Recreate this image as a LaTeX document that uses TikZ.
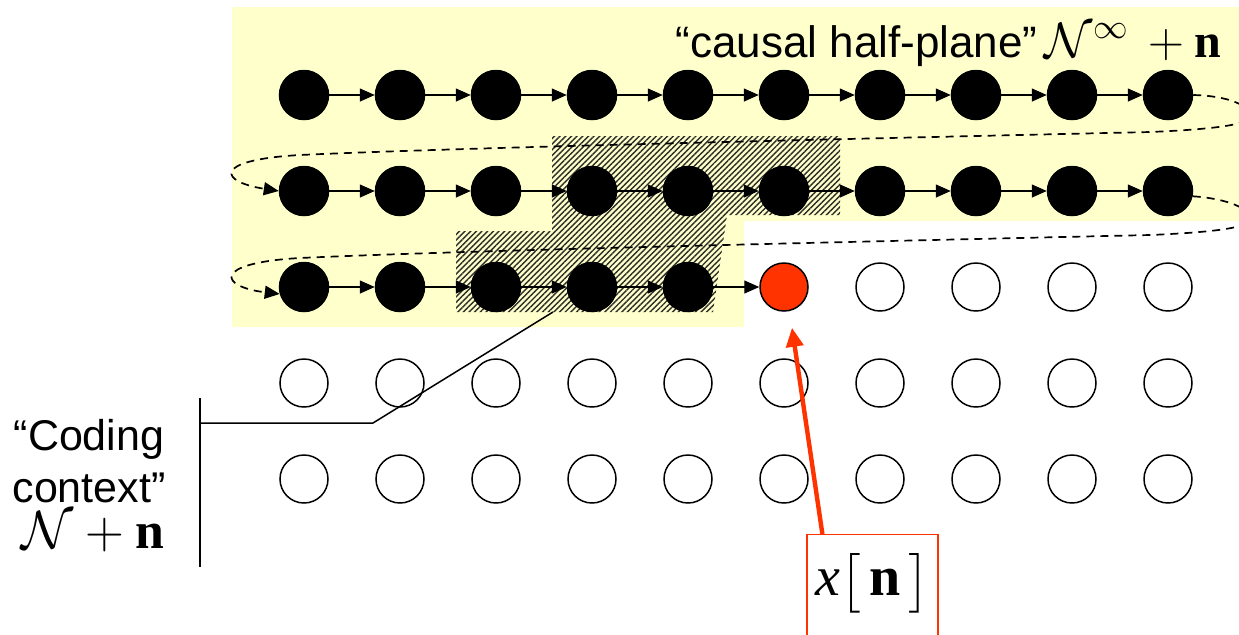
\documentclass[tikz,border=0pt]{standalone}
\usepackage{amsmath}
\usepackage{graphicx}
\usepackage{fontspec}
\setmainfont{Liberation Serif}
\setsansfont{Liberation Sans}
\usetikzlibrary{arrows.meta,patterns.meta,calc}
\definecolor{paleyellow}{RGB}{255,255,204}
\definecolor{redorange}{RGB}{255,51,0}
\definecolor{hatchgray}{RGB}{45,45,40}
\begin{document}
\begin{tikzpicture}[x=0.5pt,y=-0.5pt,
  filled/.style={circle,fill=black,draw=black,line width=0.75pt,minimum size=24.5pt,inner sep=0pt},
  empty/.style={circle,fill=white,draw=black,line width=0.75pt,minimum size=24pt,inner sep=0pt},
  current/.style={circle,fill=redorange,draw=black,line width=0.75pt,minimum size=24pt,inner sep=0pt},
  link/.style={-{Triangle[length=7.5pt,width=6.5pt]},line width=0.7pt},
  wrap/.style={dash pattern=on 4pt off 3pt,line width=0.85pt,-{Triangle[length=7.5pt,width=6.5pt]}},
  redarrow/.style={draw=redorange,line width=2.2pt,-{Triangle[length=9.5pt,width=8.5pt]}},
  lbl/.style={font=\fontsize{21.5}{25}\selectfont\sffamily,inner sep=0pt},
  mathlbl/.style={font=\fontsize{24}{28}\selectfont,inner sep=0pt},
  bracket/.style={line width=0.75pt}
]
\useasboundingbox (0,0) rectangle (1239,634);
% causal half-plane region
\fill[paleyellow] (232,7) -- (1245,7) -- (1245,221) -- (744,221) -- (744,327) -- (232,327) -- cycle;
% coding context hatch
\fill[pattern={Lines[angle=45,distance=2pt,line width=0.7pt]},pattern color=hatchgray]
  (552,136) -- (840,136) -- (840,215) -- (727,215) -- (713,312) -- (456,312) -- (456,231) -- (552,231) -- cycle;
\coordinate (ctxpt) at (553,312);
% sample grid
\foreach \i in {1,2}{
  \foreach \j in {1,...,10}{
    \node[filled] (c\i-\j) at ({304+96*(\j-1)},{95+96*(\i-1)}) {};
  }
}
\foreach \j in {1,...,5}{
  \node[filled] (c3-\j) at ({304+96*(\j-1)},287) {};
}
\node[current] (c3-6) at (784,287) {};
\foreach \j in {7,...,10}{
  \node[empty] (c3-\j) at ({304+96*(\j-1)},287) {};
}
\foreach \i in {4,5}{
  \foreach \j in {1,...,10}{
    \node[empty] (c\i-\j) at ({304+96*(\j-1)},{95+96*(\i-1)}) {};
  }
}
% scan order arrows
\foreach \i in {1,2}{
  \foreach \j in {1,...,9}{
    \pgfmathtruncatemacro{\nxt}{\j+1}
    \draw[link] (c\i-\j) -- (c\i-\nxt);
  }
}
\foreach \j in {1,...,5}{
  \pgfmathtruncatemacro{\nxt}{\j+1}
  \draw[link] (c3-\j) -- (c3-\nxt);
}
\draw[wrap] (c1-10.east) .. controls (1230,96) and (1250,106) .. (1250,116)
  .. controls (1250,124) and (1220,129) .. (1150,132)
  .. controls (800,140) and (450,148) .. (300,155)
  .. controls (210,160) and (220,182) .. (c2-1.west);
\draw[wrap] (c2-10.-12) .. controls (1230,199) and (1250,209) .. (1250,219)
  .. controls (1250,227) and (1220,232) .. (1150,235)
  .. controls (800,243) and (450,251) .. (300,258)
  .. controls (210,263) and (220,287) .. (c3-1.196);
% labels
\node[font=\fontsize{22}{26}\selectfont\sffamily,inner sep=0pt,anchor=base east] (causal) at (1222,57)
  {“causal half-plane”\,{\fontsize{24}{28}\selectfont$\mathcal{N}^{\infty}\,+\mathbf{n}$}};
\node[lbl,anchor=base] (coding1) at (89,450) {“Coding};
\node[lbl,anchor=base] (coding2) at (89,502) {context”};
\node[mathlbl,anchor=base] (coding3) at (93,548) {\scalebox{1.08}{$\mathcal{N}+\mathbf{n}$}};
% bracket to coding context
\coordinate (btop) at (200,398);
\coordinate (bbot) at (200,567);
\coordinate (bmid) at (200,423);
\coordinate (bknee) at (373,423);
\draw[bracket] (btop) -- (bbot);
\draw[bracket] (bmid) -- (bknee) -- (ctxpt);
% current sample
\node[draw=redorange,line width=0.6pt,anchor=north,minimum width=65.5pt,
  text height=30.5pt,text depth=32.5pt,inner xsep=0pt,inner ysep=0pt] (xn) at (872.5,534)
  {\fontsize{28}{34}\selectfont$\mathit{x}\big[\,\mathbf{n}\,\big]$};
\draw[redarrow] ([xshift=8pt]xn.north west) -- ([xshift=4pt,yshift=-8pt]c3-6.south);
\end{tikzpicture}
\end{document}
